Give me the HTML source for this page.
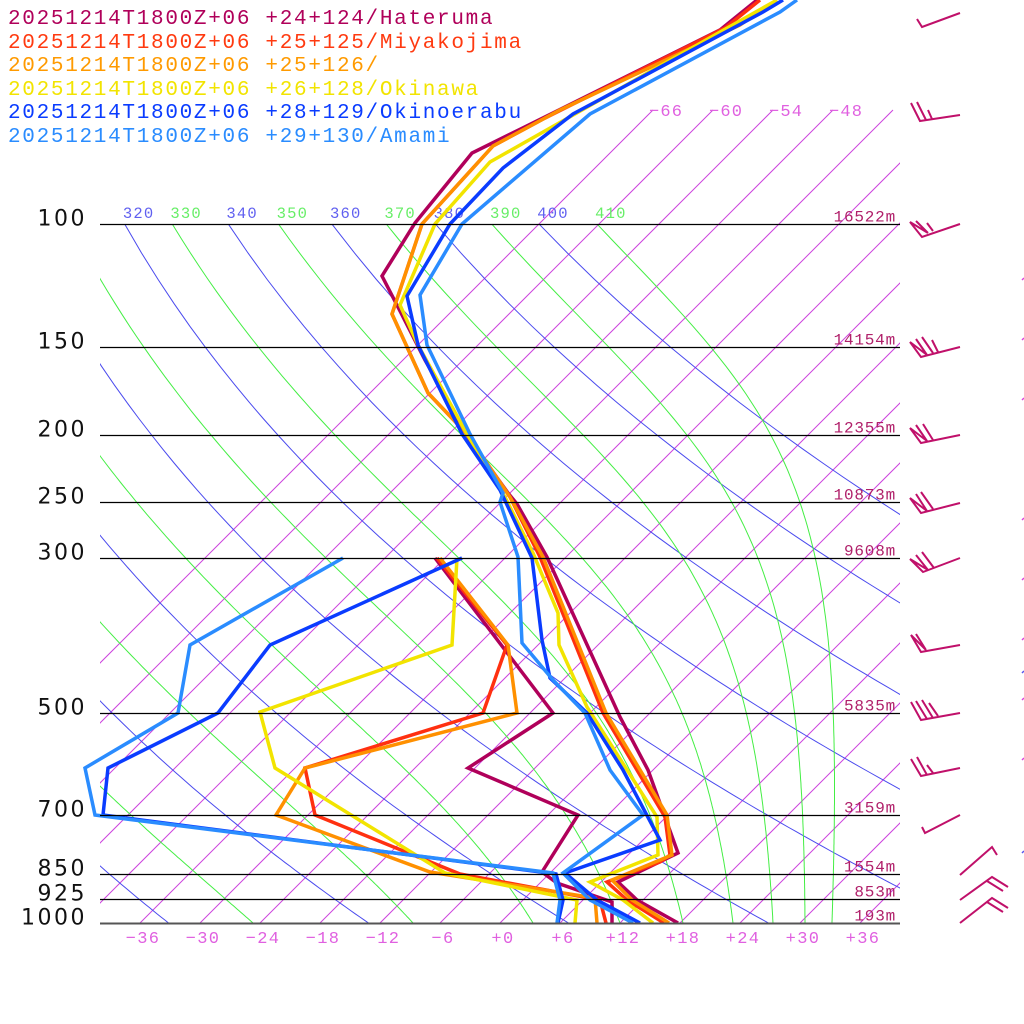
<!DOCTYPE html>
<html><head><meta charset="utf-8">
<style>
html,body{margin:0;padding:0;background:#fff;}
svg{display:block;}
</style></head>
<body>
<svg id="s" width="1024" height="1024" viewBox="0 0 1024 1024" xmlns="http://www.w3.org/2000/svg">
<defs><clipPath id="cp"><rect x="100" y="0" width="800" height="923"/></clipPath>
<clipPath id="cpd"><rect x="0" y="0" width="900" height="924"/></clipPath>
<clipPath id="cpt"><rect x="100" y="0" width="800" height="1024"/></clipPath></defs>
<rect width="1024" height="1024" fill="#fff"/>
<g id="grid" clip-path="url(#cp)"></g>
<g id="gl" clip-path="url(#cpt)"></g>
<g id="iso"></g>
<g id="data" clip-path="url(#cpd)" fill="none" stroke-width="3.5" stroke-linejoin="miter"></g>
<g id="lab"></g>
<g id="wind" stroke="#c0106a" stroke-width="2" fill="none"></g>
<g font-family="'Liberation Mono',monospace" font-size="21" letter-spacing="1.7">
<text x="8" y="24" fill="#b0005a">20251214T1800Z+06 +24+124/Hateruma</text>
<text x="8" y="48" fill="#ff3a10">20251214T1800Z+06 +25+125/Miyakojima</text>
<text x="8" y="71" fill="#ff9a00">20251214T1800Z+06 +25+126/</text>
<text x="8" y="95" fill="#f2e400">20251214T1800Z+06 +26+128/Okinawa</text>
<text x="8" y="118" fill="#0a3cff">20251214T1800Z+06 +28+129/Okinoerabu</text>
<text x="8" y="142" fill="#2a8cff">20251214T1800Z+06 +29+130/Amami</text>
</g>
</svg>
<script>
(function(){
var NS="http://www.w3.org/2000/svg";
function el(parent,tag,attrs,txt){var e=document.createElementNS(NS,tag);for(var k in attrs)e.setAttribute(k,attrs[k]);if(txt!==undefined)e.textContent=txt;document.getElementById(parent).appendChild(e);return e;}
function Y(p){return 923-303.5*Math.log(1000/p);}
function X(T,p){return 500+10*T+(923-Y(p));}
function pl(parent,pts,color,w){el(parent,"polyline",{points:pts.map(function(a){return a[0].toFixed(1)+","+a[1].toFixed(1)}).join(" "),fill:"none",stroke:color,"stroke-width":w});}
for(var T=-66;T<=36;T+=6){
  var x0=500+10*T,y0=923,x1=x0+813,y1=110;
  el("grid","line",{x1:x0,y1:y0,x2:x1,y2:y1,stroke:"#cc44dd","stroke-width":1});
}
for(var th=220;th<=400;th+=20){
  var pts=[];for(var p=100;p<=1000;p+=10){var t=th*Math.pow(p/1000,0.2857)-273.15;pts.push([X(t,p),Y(p)]);}
  pl("grid",pts,"#4a4aee",1);
  if(th>=320){el("gl","text",{x:pts[0][0]-2,y:218,fill:"#6060f0","font-family":"'Liberation Mono',monospace","font-size":15.5,"letter-spacing":1.2},String(th));}
}
function es(Tc){return 6.112*Math.exp(17.67*Tc/(Tc+243.5));}
function dTdp(Tk,p){var e=es(Tk-273.15);var rs=0.622*e/(p-e);var Rd=287,Lv=2.5e6,Cp=1005;
  return (Rd*Tk+Lv*rs)/(p*(Cp+Lv*Lv*rs*0.622/(Rd*Tk*Tk)));}
var T1=[-24.7,-8.7,3.3,12,18.3,23.3,27.3,30.5,33.2];var lbl=[250,270,290,310,330,350,370,390,410];
for(var i=0;i<T1.length;i++){
  var Tk=T1[i]+273.15,p=1000,pts=[[X(T1[i],1000),Y(1000)]];
  while(p>100.01){var dp=-5;var k1=dTdp(Tk,p);var k2=dTdp(Tk+k1*dp/2,p+dp/2);Tk+=k2*dp;p+=dp;pts.push([X(Tk-273.15,p),Y(p)]);}
  pl("grid",pts,"#44ee44",1);
  if(lbl[i]>=310){el("gl","text",{x:pts[pts.length-1][0]-2,y:218,fill:"#66ee66","font-family":"'Liberation Mono',monospace","font-size":15.5,"letter-spacing":1.2},String(lbl[i]));}
}
[-66,-60,-54,-48].forEach(function(T){el("iso","text",{x:500+10*T+813-4,y:116,fill:"#e060e0","font-family":"'Liberation Mono',monospace","font-size":17,"letter-spacing":1.2},String(T).replace("-","\u2212"));});
var lev=[[100,"100","16522m"],[150,"150","14154m"],[200,"200","12355m"],[250,"250","10873m"],[300,"300","9608m"],[500,"500","5835m"],[700,"700","3159m"],[850,"850","1554m"],[925,"925","853m"],[1000,"1000","193m"]];
lev.forEach(function(L){var y=Math.round(Y(L[0]))+0.5;
  el("lab","line",{x1:100,y1:y,x2:900,y2:y,stroke:L[0]==1000?"#555":"#000","stroke-width":L[0]==1000?2:1.3});
  el("lab","text",{x:87,y:y+1,"text-anchor":"end",fill:"#111","font-family":"'DejaVu Sans',sans-serif","font-size":22,"letter-spacing":2.5},L[1]);
  el("lab","text",{x:896,y:y-3,"text-anchor":"end",fill:"#b0206a","font-family":"'Liberation Mono',monospace","font-size":16,"letter-spacing":0.8},L[2]);
});
for(var T=-36;T<=36;T+=6){var s=(T<0?"\u2212":"+")+Math.abs(T);
  el("lab","text",{x:500+10*T+3,y:943,"text-anchor":"middle",fill:"#e060e0","font-family":"'Liberation Mono',monospace","font-size":17,"letter-spacing":1.4},s);}
var C=["#b0005a","#ff3010","#ff9000","#f2e400","#0a3cff","#2a8cff"];
var TT=[
[[757,0],[720,30],[543,118],[472,153],[415,223],[382,276],[400,311],[425,360],[470,440],[508,493],[517,504],[547,557],[620,717],[648,770],[678,853],[618,882],[637,900],[678,923]],
[[760,0],[725,28],[545,118],[493,146],[422,224],[392,314],[428,393],[467,434],[510,497],[540,557],[603,713],[665,817],[670,855],[660,862],[607,882],[627,900],[664,923]],
[[777,0],[740,25],[560,110],[493,146],[422,224],[392,314],[428,393],[467,434],[510,497],[543,557],[606,713],[667,815],[672,855],[612,880],[632,900],[669,923]],
[[777,0],[713,36],[490,162],[435,224],[400,305],[418,345],[467,434],[505,497],[533,553],[558,613],[559,645],[587,707],[657,817],[658,855],[590,882],[623,900],[653,923]],
[[783,0],[763,12],[573,114],[503,168],[450,224],[407,296],[418,345],[462,434],[500,490],[532,558],[542,640],[550,678],[587,713],[623,770],[660,840],[565,873],[597,900],[640,923]],
[[797,0],[780,12],[590,114],[462,224],[420,295],[427,345],[470,434],[503,493],[500,502],[518,557],[522,643],[553,680],[585,713],[610,770],[643,815],[563,873],[590,900],[633,923]]];
var TD=[
[[435,558],[553,713],[468,768],[578,815],[542,872],[557,883],[612,902],[612,923]],
[[437,558],[507,645],[483,713],[305,768],[315,815],[460,874],[600,900],[606,923]],
[[440,558],[508,645],[517,713],[305,768],[276,815],[430,872],[595,898],[597,923]],
[[457,558],[452,645],[260,712],[275,768],[445,873],[577,900],[575,923]],
[[462,558],[270,645],[218,713],[108,768],[103,815],[556,874],[563,900],[558,923]],
[[343,558],[190,645],[178,713],[85,768],[95,815],[553,873],[560,900],[557,923]]];
for(var i=0;i<6;i++){pl("data",TT[i],C[i],3.5);pl("data",TD[i],C[i],3.5);}
function P(d){el("wind","path",{d:d});}
P("M960,13 L922,27 L917,19");
P("M960,115 L920,121 L911,103 M926,120 L917,102 M932,119 L928,110");
P("M960,224 L922,237 L910,222 L928,233 M916,221 L928,233 M933,231 L927,223");
P("M960,347 L921,357 L910,342 L927,355 M916,339 L927,355 M922,337 L933,353 M938,352 L932,340");
P("M960,435 L921,443 L910,428 L927,441 M916,425 L927,441 M923,424 L933,440");
P("M960,503 L921,513 L910,498 L927,511 M916,494 L927,511 M921,492 L933,509");
P("M960,558 L923,572 L910,559 L928,570 M916,555 L928,570 M922,552 L934,568");
P("M960,645 L921,652 L911,635 L926,650 M916,634 L926,650");
P("M960,713 L921,720 L911,702 M927,719 L916,701 M933,718 L922,700 M938,716 L929,703");
P("M960,768 L921,776 L911,759 M927,775 L917,757 M933,773 L927,765");
P("M960,815 L925,833 L922,827");
P("M960,875 L992,847 L997,855");
P("M960,900 L992,877 L1008,887 M987,881 L1003,891");
P("M960,923 L992,898 L1008,908 M987,902 L1003,912");
[[280,"#dd44dd"],[340,"#dd44dd"],[400,"#dd44dd"],[520,"#dd44dd"],[580,"#dd44dd"],[640,"#dd44dd"],[673,"#5555ee"],[700,"#dd44dd"],[760,"#dd44dd"],[853,"#5555ee"]].forEach(function(a){
  el("wind","line",{x1:1022,y1:a[0],x2:1024,y2:a[0]-2,stroke:a[1],"stroke-width":1.5});});
})();
</script>
</body></html>
